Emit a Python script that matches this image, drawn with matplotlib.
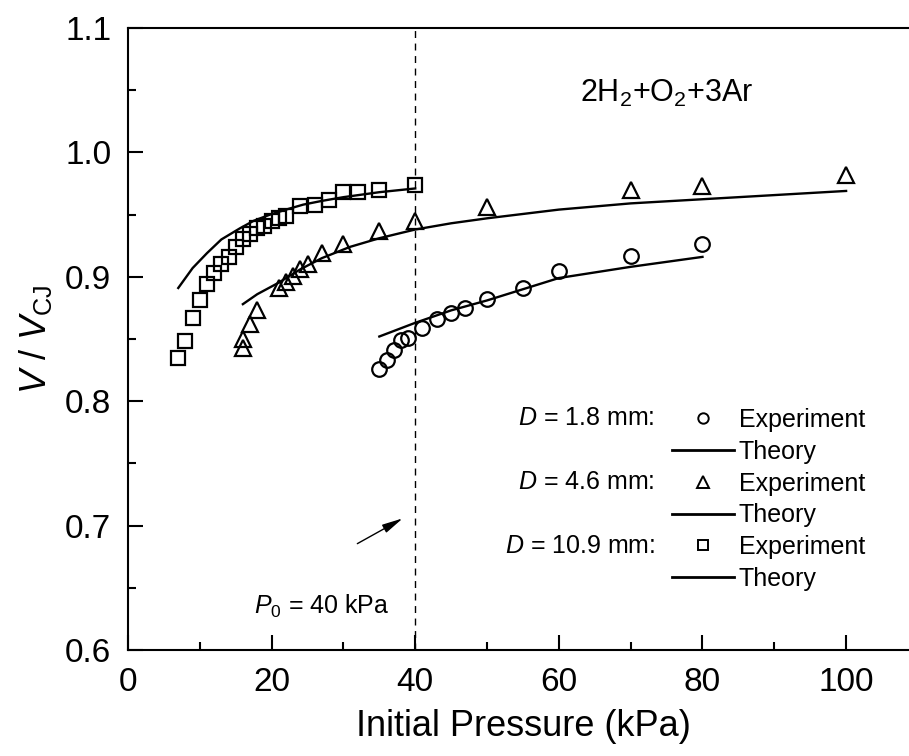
import matplotlib
matplotlib.use("Agg")
import matplotlib.pyplot as plt
from matplotlib.lines import Line2D

plt.rcParams["font.family"] = ["Liberation Sans", "DejaVu Sans"]
plt.rcParams["mathtext.fontset"] = "custom"
plt.rcParams["mathtext.rm"] = "Liberation Sans"
plt.rcParams["mathtext.it"] = "Liberation Sans:italic"

# D = 10.9 mm
p_sq = [7, 8, 9, 10, 11, 12, 13, 14, 15, 16, 17, 18, 19, 20, 21, 22, 24, 26, 28, 30, 32, 35, 40]
v_sq = [0.835, 0.848, 0.867, 0.881, 0.894, 0.903, 0.910, 0.916, 0.924, 0.930, 0.934, 0.939,
        0.941, 0.945, 0.947, 0.949, 0.957, 0.958, 0.962, 0.968, 0.968, 0.970, 0.974]
p_sq_th = [7, 9, 11, 13, 15.6, 17.5, 19.8, 22, 24.4, 27, 30, 35, 40]
v_sq_th = [0.891, 0.907, 0.919, 0.930, 0.939, 0.945, 0.950, 0.954, 0.958, 0.961, 0.964, 0.968, 0.971]

# D = 4.6 mm
p_tri = [16, 16, 17, 18, 21, 22, 23, 24, 25, 27, 30, 35, 40, 50, 70, 80, 100]
v_tri = [0.843, 0.850, 0.862, 0.873, 0.891, 0.896, 0.901, 0.906, 0.910, 0.919, 0.926,
         0.937, 0.945, 0.956, 0.970, 0.973, 0.982]
p_tri_th = [16, 18, 20.9, 24, 27, 30.9, 35, 40, 45, 50, 60, 70, 85, 100]
v_tri_th = [0.878, 0.886, 0.895, 0.906, 0.915, 0.924, 0.931, 0.938, 0.943, 0.947, 0.954,
            0.959, 0.964, 0.969]

# D = 1.8 mm
p_ci = [35, 36, 37, 38, 39, 41, 43, 45, 47, 50, 55, 60, 70, 80]
v_ci = [0.826, 0.833, 0.841, 0.849, 0.851, 0.859, 0.866, 0.871, 0.875, 0.882, 0.891,
        0.905, 0.917, 0.926]
p_ci_th = [35, 40, 45, 50, 55, 60, 70, 80]
v_ci_th = [0.852, 0.863, 0.873, 0.881, 0.890, 0.899, 0.908, 0.916]

fig = plt.figure(figsize=(9.09, 7.56), dpi=100)
ax = fig.add_axes([0.1408, 0.1402, 0.869, 0.8228])

mk = dict(linestyle="none", markerfacecolor="none", markeredgecolor="black",
          markeredgewidth=1.6, markersize=10.5)
ax.plot(p_sq, v_sq, marker="s", **mk)
ax.plot(p_tri, v_tri, marker="^", **dict(mk, markersize=12))
ax.plot(p_ci, v_ci, marker="o", **mk)
ax.plot(p_sq_th, v_sq_th, color="black", lw=1.7)
ax.plot(p_tri_th, v_tri_th, color="black", lw=1.7)
ax.plot(p_ci_th, v_ci_th, color="black", lw=1.7)

ax.axvline(40, color="black", lw=1.0, dashes=(5, 4))

ax.set_xlim(0, 110)
ax.set_ylim(0.6, 1.1)
ax.set_xticks([0, 20, 40, 60, 80, 100])
ax.set_xticks([10, 30, 50, 70, 90, 110], minor=True)
ax.set_yticks([0.6, 0.7, 0.8, 0.9, 1.0, 1.1])
ax.set_yticks([0.65, 0.75, 0.85, 0.95, 1.05], minor=True)
ax.tick_params(which="both", direction="in", width=1.5, labelsize=24)
ax.tick_params(which="major", length=11)
ax.tick_params(which="minor", length=6)
ax.tick_params(axis="y", pad=12)
ax.tick_params(axis="x", pad=12)
for s in ax.spines.values():
    s.set_linewidth(1.5)

ax.set_xlabel("Initial Pressure (kPa)", fontsize=26, labelpad=8)
ax.set_ylabel(r"$V$ / $V_{\mathrm{CJ}}$", fontsize=26, labelpad=8)

ax.text(63, 1.0477, r"2H$_2$+O$_2$+3Ar", fontsize=22, va="center", ha="left")

ax.annotate("", xy=(38.6, 0.7069), xytext=(31.6, 0.6844),
            arrowprops=dict(arrowstyle="-|>,head_width=0.15,head_length=0.7",
                            color="black", lw=1.0, mutation_scale=18))
ax.text(27.0, 0.6354, r"$P_0$ = 40 kPa", fontsize=18, ha="center", va="center")

handles = [
    Line2D([], [], marker="o", linestyle="none", markerfacecolor="none",
           markeredgecolor="black", markeredgewidth=1.4, markersize=7.5),
    Line2D([], [], color="black", lw=2),
    Line2D([], [], marker="^", linestyle="none", markerfacecolor="none",
           markeredgecolor="black", markeredgewidth=1.4, markersize=8.5),
    Line2D([], [], color="black", lw=2),
    Line2D([], [], marker="s", linestyle="none", markerfacecolor="none",
           markeredgecolor="black", markeredgewidth=1.4, markersize=7.5),
    Line2D([], [], color="black", lw=2),
]
labels = ["Experiment", "Theory"] * 3
ax.legend(handles, labels, loc="upper left", bbox_to_anchor=(0.6888, 0.389),
          frameon=False, fontsize=18, handlelength=2.46, handletextpad=0.2,
          borderpad=0, borderaxespad=0, labelspacing=0.31, numpoints=1)

for yf, lab in [(0.373, "1.8"), (0.270, "4.6"), (0.167, "10.9")]:
    ax.text(0.667, yf, r"$D$ = " + lab + " mm:", transform=ax.transAxes,
            fontsize=18, ha="right", va="center")

fig.savefig("out.png", dpi=100)
